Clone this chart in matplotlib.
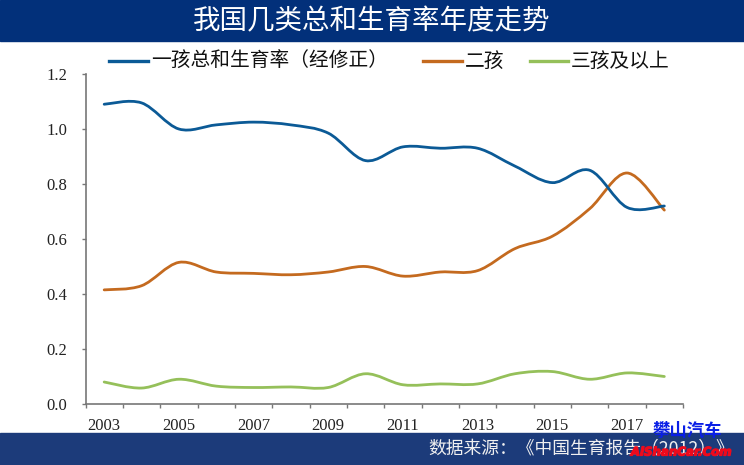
import matplotlib
matplotlib.use("Agg")
import matplotlib.pyplot as plt
import matplotlib.patheffects as pe
from matplotlib.path import Path
from matplotlib.patches import PathPatch, Rectangle
from matplotlib.lines import Line2D
import numpy as np

years = list(range(2003, 2019))
tick_labels = ["2003", "2005", "2007", "2009", "2011", "2013", "2015", "2017"]
yticks = [0.0, 0.2, 0.4, 0.6, 0.8, 1.0, 1.2]
one_child = [1.09, 1.095, 1.00, 1.015, 1.025, 1.015, 0.985, 0.885, 0.935, 0.93, 0.93, 0.865, 0.805, 0.85, 0.715, 0.72]
two_child = [0.415, 0.43, 0.515, 0.48, 0.475, 0.47, 0.48, 0.50, 0.465, 0.48, 0.485, 0.565, 0.61, 0.71, 0.84, 0.705]
three_child = [0.08, 0.058, 0.09, 0.065, 0.06, 0.062, 0.06, 0.11, 0.07, 0.073, 0.073, 0.11, 0.118, 0.09, 0.113, 0.10]
series_names = ["一孩总和生育率（经修正）", "二孩", "三孩及以上"]
colors = ["#0b5a96", "#c46a1f", "#95c05a"]
title = "我国几类总和生育率年度走势"
source = "数据来源：《中国生育报告（2012）》"

W, H = 744, 465
CJK = ["Noto Sans CJK SC", "DejaVu Sans"]
plt.rcParams["font.family"] = CJK
fig = plt.figure(figsize=(W/100, H/100), dpi=100)

def px(x, y):
    return x / W, 1 - y / H

# bands
fig.patches.append(Rectangle((0, 1-41/H), 1, 41/H, transform=fig.transFigure, color="#02307a", zorder=0))
fig.patches.append(Rectangle((0, 0), 1, 32/H, transform=fig.transFigure, color="#1c3b7a", zorder=0))
fig.text(*px(372, 22), title, color="white", fontsize=19.8, ha="center", va="center")
fig.text(*px(428, 449), source, color="#f0f0f0", fontsize=12.8, ha="left", va="center")

L, R, T, B = 85.5, 683, 74, 404
ax = fig.add_axes([L/W, 1-B/H, (R-L)/W, (B-T)/H])
ax.patch.set_alpha(0)
ax.set_xlim(2002.5, 2018.5)
ax.set_ylim(0, 1.2)

def smooth_path(xs, ys, k=1/6):
    xs = np.asarray(xs, float); ys = np.asarray(ys, float)
    verts = [(xs[0], ys[0])]; codes = [Path.MOVETO]
    n = len(xs)
    for i in range(n-1):
        p0 = max(i-1, 0); p3 = min(i+2, n-1)
        verts.append((xs[i] + (xs[i+1]-xs[p0])*k, ys[i] + (ys[i+1]-ys[p0])*k))
        verts.append((xs[i+1] - (xs[p3]-xs[i])*k, ys[i+1] - (ys[p3]-ys[i])*k))
        verts.append((xs[i+1], ys[i+1]))
        codes += [Path.CURVE4]*3
    return Path(verts, codes)

for vals, c in zip([three_child, two_child, one_child], [colors[2], colors[1], colors[0]]):
    ax.add_patch(PathPatch(smooth_path(years, vals), fc="none", ec=c, lw=2.0, capstyle="round", zorder=3))

for s in ["top", "right"]:
    ax.spines[s].set_visible(False)
for s in ["left", "bottom"]:
    ax.spines[s].set_color("#777777")
    ax.spines[s].set_linewidth(1.2)
ax.set_yticks(yticks)
ax.set_yticklabels([f"{v:.1f}" for v in yticks], fontfamily="Liberation Serif", fontsize=12, color="#222222")
ax.set_xticks(np.arange(2002.5, 2019.5, 1))
ax.set_xticklabels([])
ax.set_xticks([int(t) for t in tick_labels], minor=True)
ax.set_xticklabels(tick_labels, minor=True, fontfamily="Liberation Serif", fontsize=12, color="#222222")
ax.tick_params(axis="x", which="major", direction="out", length=3, width=1, color="#777777")
ax.tick_params(axis="x", which="minor", length=0, pad=10)
ax.tick_params(axis="y", direction="out", length=3, width=1, color="#777777", pad=10)

# legend drawn in figure space
for (x0, x1, tx, name, c) in [(109, 148, 151, series_names[0], colors[0]),
                              (423, 462, 465, series_names[1], colors[1]),
                              (530, 568, 571, series_names[2], colors[2])]:
    fig.add_artist(Line2D([x0/W, x1/W], [1-61/H]*2, color=c, lw=2.4))
    fig.text(*px(tx, 67), name, fontsize=14.2, color="#111111", ha="left", va="baseline")

# watermark
fig.text(*px(687, 431), "攀山汽车", color="#0a1fe6", fontsize=12.5, fontweight="bold", ha="center", va="center", zorder=5)
fig.text(*px(681, 452), "AiShanCar.Com", color="#ee0a1c", fontsize=8.5, fontweight="bold", ha="center", va="center",
         family="DejaVu Sans", style="italic", zorder=6,
         path_effects=[pe.withStroke(linewidth=0.9, foreground="#ee0a1c")])

fig.savefig("out.png", dpi=100)
